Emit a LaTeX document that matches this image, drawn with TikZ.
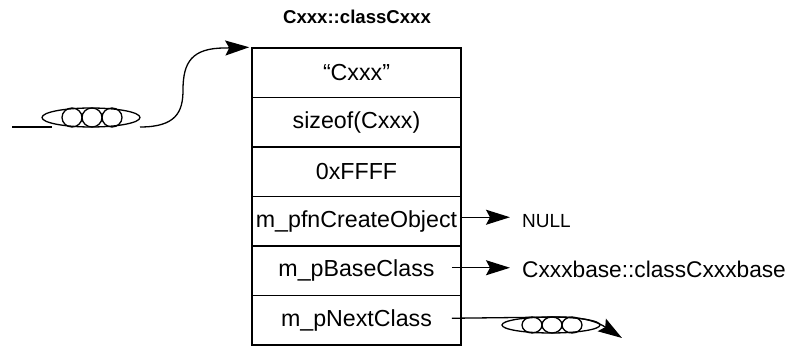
\documentclass[tikz,border=0pt]{standalone}
\usepackage{fontspec}
\setmainfont{Liberation Sans}
\usetikzlibrary{arrows.meta}
\begin{document}
\begin{tikzpicture}[x=1pt,y=-1pt,
  rowbox/.style={draw, line width=1.5pt, minimum width=209pt, minimum height=49.5pt,
                 inner sep=0pt, font=\fontsize{23.2}{27}\selectfont},
  lbl/.style={inner sep=0pt, anchor=west},
  wire/.style={line width=1.3pt},
  arr/.style={wire, -{Stealth[length=24pt, width=15pt, inset=4pt]}},
  coil/.style={line width=1.3pt}]
\useasboundingbox (0,0) rectangle (794,347);

% title of the class record
\node[inner sep=0pt, font=\fontsize{18.6}{22}\selectfont\bfseries] (title) at (357,17) {Cxxx::classCxxx};

% the six fields of the record
\node[rowbox] (r1) at (356.5,72.75)  {“Cxxx”};
\node[rowbox] (r2) at (356.5,122.25) {sizeof(Cxxx)};
\node[rowbox] (r3) at (356.5,171.75) {0xFFFF};
\node[rowbox] (r4) at (356.5,221.25) {m\_pfnCreateObject};
\node[rowbox] (r5) at (356.5,270.75) {m\_pBaseClass};
\node[rowbox] (r6) at (356.5,320.25) {m\_pNextClass};

% pointer targets
\node[lbl, font=\fontsize{19}{22}\selectfont] (null) at (522,221) {NULL};
\node[lbl, font=\fontsize{22.7}{26}\selectfont] (base) at (522,269) {Cxxxbase::classCxxxbase};

% incoming link from the previous record, with its coil
\coordinate (inStart) at (12,127);
\coordinate (inCoilL) at (52,127);
\draw[wire] (inStart) -- (inCoilL);
\draw[coil] (91,117.5) ellipse [x radius=49, y radius=9.5];
\foreach \cx in {72,92,112} \draw[coil] (\cx,117.5) ellipse [x radius=10, y radius=9.5];
\draw[arr] (140,127) .. controls (176,127) and (183,112) .. (183,90)
           .. controls (183,62) and (192,48) .. (225,48) -- ([xshift=-2pt]r1.north west);

% m_pfnCreateObject -> NULL
\coordinate (s4) at ([yshift=4pt]r4.east);
\coordinate (e4) at ([xshift=-12pt]null.west);
\draw[arr] (s4) -- (s4 -| e4);

% m_pBaseClass -> base class record
\coordinate (s5) at ([xshift=-10pt,yshift=3pt]r5.east);
\coordinate (e5) at ([xshift=-12pt]base.west);
\draw[arr] (s5) -- (s5 -| e5);

% m_pNextClass -> next record, with its coil
\coordinate (s6) at ([xshift=-10pt,yshift=2pt]r6.east);
\coordinate (nextEnd) at (622,338);
\draw[coil] (551,325) ellipse [x radius=49, y radius=8];
\foreach \cx in {532,552,572} \draw[coil] (\cx,325) ellipse [x radius=10, y radius=8];
\draw[arr] (s6) -- (560,317) .. controls (593,317) and (605,327) .. (nextEnd);
\end{tikzpicture}
\end{document}
